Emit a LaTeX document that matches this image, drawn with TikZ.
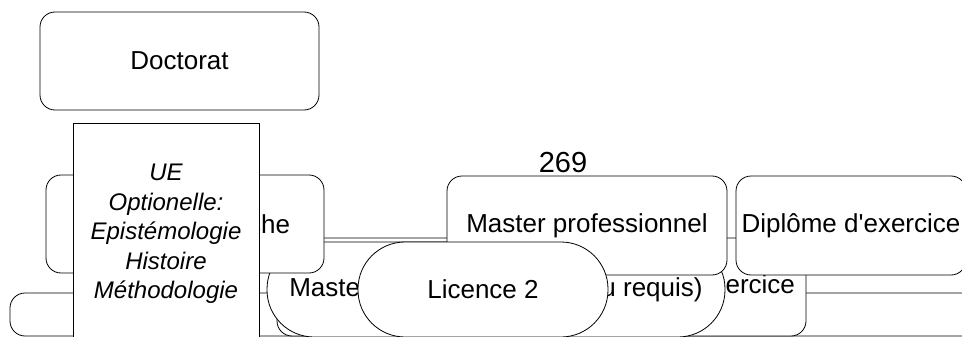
\documentclass[tikz,border=0pt]{standalone}
\usepackage{fontspec}
\setmainfont{Liberation Sans}
\begin{document}
\begin{tikzpicture}[x=1pt,y=-1pt,
	kasten/.style={draw,fill=white,rounded corners=15pt,line width=0.8pt,inner sep=0pt,font=\fontsize{26}{30}\selectfont},
	oval/.style={kasten,rounded corners=47pt}]
	\useasboundingbox (0,0) rectangle (962,337);
	% untere Ebene
	\node[kasten,minimum width=990pt,minimum height=43pt] (unten) at (505,314.5) {};
	\node[kasten,minimum width=529pt,minimum height=98pt,text width=507pt,align=right] (exo) at (541.5,287) {Diplôme d\textquotesingle exercice};
	\node[oval,minimum width=458pt,minimum height=95pt] (mast) at (496,289.5) {Master (Licence 3 ou niveau requis)};
	% Masterkästen
	\node[kasten,minimum width=280pt,minimum height=99pt] (mpro) at (587,225.5) {Master professionnel};
	\node[kasten,minimum width=230pt,minimum height=99pt] (dipl) at (851,225.5) {Diplôme d\textquotesingle exercice};
	\node[kasten,minimum width=278pt,minimum height=98pt,text width=210pt,align=right] (mrech) at (185,224) {Master recherche};
	\node[oval,minimum width=250pt,minimum height=95pt] (lic) at (483,289.5) {Licence 2};
	%UE
	\node[kasten,sharp corners,minimum width=186pt,minimum height=222pt,align=center,font=\itshape\fontsize{24}{29.5}\selectfont] (ue) at (166,234)
		{UE\\Optionelle:\\Epistémologie\\Histoire\\Méthodologie};
	\node[kasten,minimum width=279pt,minimum height=98pt] (doc) at (179.5,61) {Doctorat};
	\node[inner sep=0pt,font=\fontsize{29}{32}\selectfont] (num) at (563,163) {269};
\end{tikzpicture}
\end{document}
